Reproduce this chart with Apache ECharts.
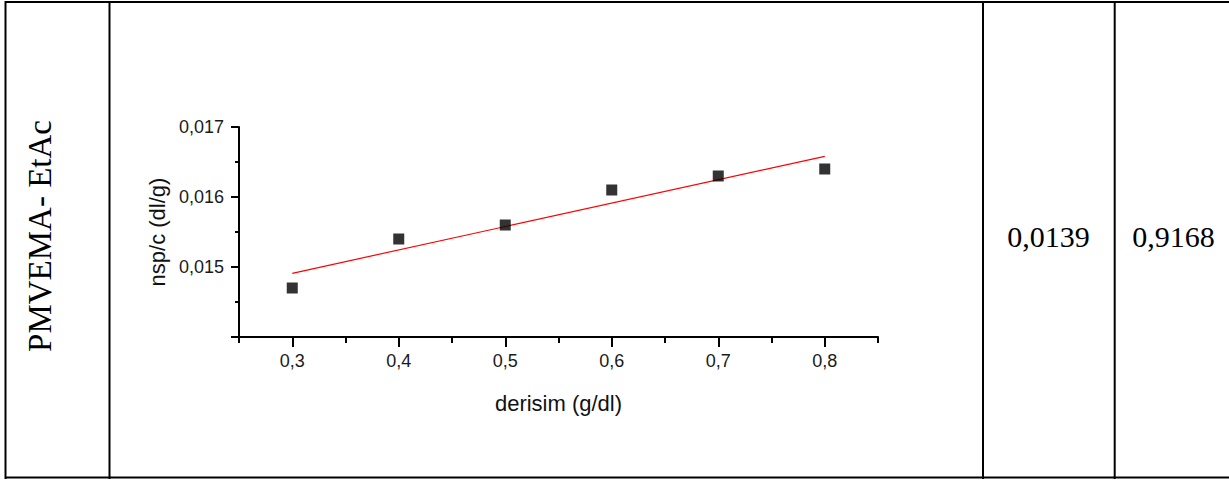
<!DOCTYPE html>
<html>
<head>
<meta charset="utf-8">
<title>PMVEMA- EtAc</title>
<script src="https://cdn.jsdelivr.net/npm/echarts@6/dist/echarts.min.js"></script>
<style>
  html, body { margin: 0; padding: 0; background: #fff; }
  #chart { width: 1229px; height: 481px; }
</style>
</head>
<body>
<div id="chart"></div>
<script>
// Measured points: concentration (g/dl) vs reduced viscosity nsp/c (dl/g)
const concentration = [0.3, 0.4, 0.5, 0.6, 0.7, 0.8];
const reducedViscosity = [0.0147, 0.0154, 0.0156, 0.0161, 0.0163, 0.0164];

// Linear fit end points
const fitX = [0.3, 0.8];
const fitY = [0.01491, 0.01658];

// Tick positions
const xMajorTicks = [0.3, 0.4, 0.5, 0.6, 0.7, 0.8];
const xMinorTicks = [0.25, 0.35, 0.45, 0.55, 0.65, 0.75, 0.85];
const yLabelTicks = [0.015, 0.016, 0.017];

// Table cells
const sampleName = 'PMVEMA- EtAc';
const interceptText = '0,0139';
const r2Text = '0,9168';

const chart = echarts.init(document.getElementById('chart'), null, { renderer: 'svg' });

const sans = "'Liberation Sans', Arial, sans-serif";
const serif = "'Liberation Serif', 'Times New Roman', serif";
const ink = '#111';

const comma = (v, d) => v.toFixed(d).replace('.', ',');

const tableLine = (x1, y1, x2, y2) => ({
  type: 'line',
  shape: { x1, y1, x2, y2 },
  style: { stroke: '#000', lineWidth: 2 },
  silent: true
});

chart.setOption({
  animation: false,
  backgroundColor: '#fff',
  grid: { left: 239, right: 351, top: 127, bottom: 144, containLabel: false },
  xAxis: [
    {
      type: 'value',
      min: 0.25,
      max: 0.85,
      interval: 0.05,
      name: 'derisim (g/dl)',
      nameLocation: 'middle',
      nameGap: 55,
      nameTextStyle: { fontFamily: sans, fontSize: 22, color: ink },
      axisLine: { show: true, onZero: false, lineStyle: { color: '#000', width: 2 } },
      axisTick: { show: true, inside: false, length: 10, customValues: xMajorTicks, lineStyle: { color: '#000', width: 2 } },
      axisLabel: {
        customValues: xMajorTicks,
        margin: 15,
        fontFamily: sans,
        fontSize: 18,
        color: '#1a1a1a',
        formatter: v => comma(v, 1)
      },
      splitLine: { show: false }
    },
    {
      type: 'value',
      min: 0.25,
      max: 0.85,
      interval: 0.05,
      position: 'bottom',
      axisLine: { show: false, onZero: false },
      axisTick: { show: true, inside: false, length: 6, customValues: xMinorTicks, lineStyle: { color: '#000', width: 2 } },
      axisLabel: { show: false },
      splitLine: { show: false }
    }
  ],
  yAxis: {
    type: 'value',
    min: 0.014,
    max: 0.017,
    interval: 0.001,
    name: 'nsp/c (dl/g)',
    nameLocation: 'middle',
    nameGap: 66,
    nameRotate: 90,
    nameTextStyle: { fontFamily: sans, fontSize: 22, color: ink },
    axisLine: { show: true, onZero: false, lineStyle: { color: '#000', width: 2 } },
    axisTick: { show: true, inside: false, length: 8, lineStyle: { color: '#000', width: 2 } },
    minorTick: { show: true, splitNumber: 2, length: 4, lineStyle: { color: '#000', width: 2 } },
    axisLabel: {
      customValues: yLabelTicks,
      margin: 15,
      fontFamily: sans,
      fontSize: 18,
      color: '#1a1a1a',
      formatter: v => comma(v, 3)
    },
    splitLine: { show: false },
    minorSplitLine: { show: false }
  },
  series: [
    {
      type: 'line',
      xAxisIndex: 0,
      data: fitX.map((x, i) => [x, fitY[i]]),
      showSymbol: false,
      symbol: 'none',
      lineStyle: { color: '#ff0000', width: 1.2 },
      z: 2
    },
    {
      type: 'scatter',
      xAxisIndex: 0,
      data: concentration.map((x, i) => [x, reducedViscosity[i]]),
      symbol: 'rect',
      symbolSize: 11,
      itemStyle: { color: '#000' },
      z: 3
    }
  ],
  graphic: [
    // table frame
    tableLine(5, 2, 1229, 2),
    tableLine(5, 477.5, 1229, 477.5),
    tableLine(5.5, 1, 5.5, 479),
    tableLine(109.5, 1, 109.5, 479),
    tableLine(983, 1, 983, 479),
    tableLine(1114.7, 1, 1114.7, 479),
    // first column: sample name, reading upward
    {
      type: 'text',
      x: 40,
      y: 236,
      rotation: Math.PI / 2,
      style: {
        text: sampleName,
        fontFamily: serif,
        fontSize: 33,
        fill: '#000',
        align: 'center',
        verticalAlign: 'middle'
      },
      silent: true
    },
    {
      type: 'text',
      x: 1048.5,
      y: 236,
      style: {
        text: interceptText,
        fontFamily: serif,
        fontSize: 30,
        fill: '#000',
        align: 'center',
        verticalAlign: 'middle'
      },
      silent: true
    },
    {
      type: 'text',
      x: 1173.5,
      y: 236,
      style: {
        text: r2Text,
        fontFamily: serif,
        fontSize: 30,
        fill: '#000',
        align: 'center',
        verticalAlign: 'middle'
      },
      silent: true
    }
  ]
});
</script>
</body>
</html>
